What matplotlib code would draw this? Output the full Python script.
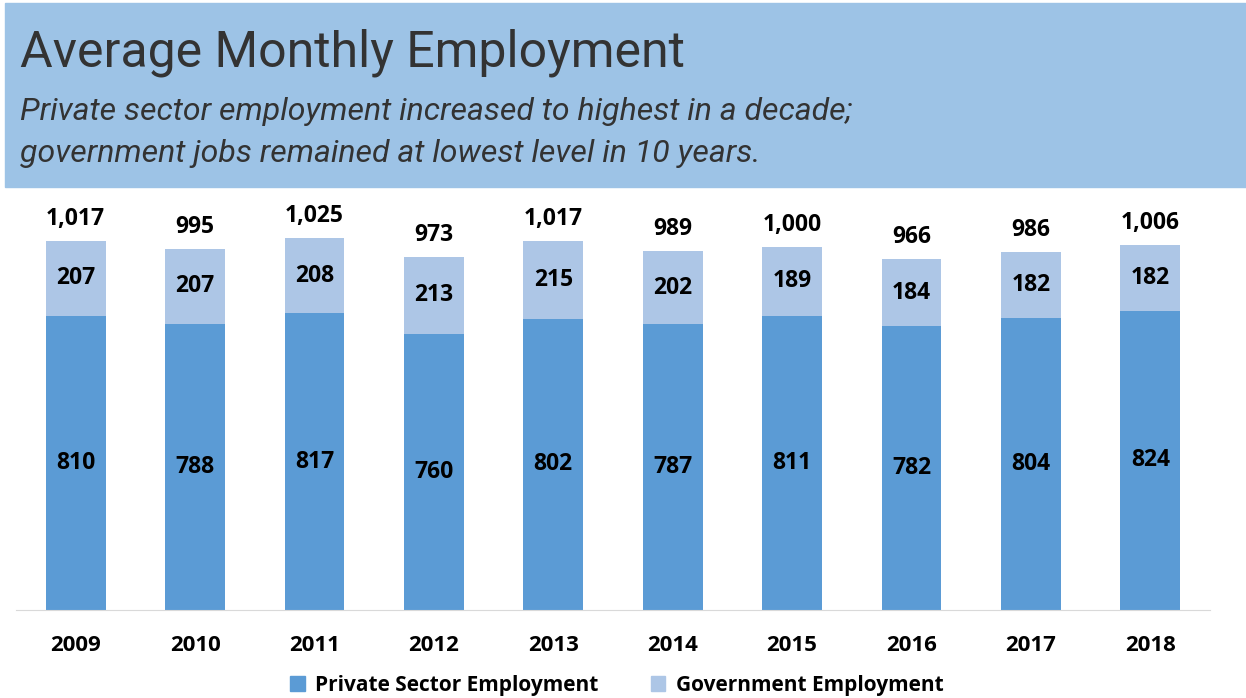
import matplotlib
matplotlib.use("Agg")
import matplotlib.pyplot as plt
from matplotlib.patches import Rectangle, Patch

# Data
years = ["2009", "2010", "2011", "2012", "2013", "2014", "2015", "2016", "2017", "2018"]
private = [810, 788, 817, 760, 802, 787, 811, 782, 804, 824]
government = [207, 207, 208, 213, 215, 202, 189, 184, 182, 182]
totals = [1017, 995, 1025, 973, 1017, 989, 1000, 966, 986, 1006]

PRIVATE_COLOR = "#5B9BD5"
GOV_COLOR = "#ADC6E6"
BOX_COLOR = "#9DC3E6"
LABEL_FONT = "Open Sans"

fig = plt.figure(figsize=(12.46, 6.98), dpi=100)

# Title banner
fig.patches.append(Rectangle((5 / 1246, 1 - 187 / 698), 1 - 5 / 1246, (187 - 3) / 698,
                             transform=fig.transFigure, color=BOX_COLOR, zorder=0))
fig.text(20 / 1246, 1 - 53 / 698, "Average Monthly Employment", fontsize=36,
         family="Roboto", color="#333333", va="center", ha="left")
fig.text(20 / 1246, 1 - 111 / 698, "Private sector employment increased to highest in a decade;",
         fontsize=23, family="Roboto", style="italic", color="#333333", va="center", ha="left")
fig.text(20 / 1246, 1 - 153 / 698, "government jobs remained at lowest level in 10 years.",
         fontsize=23, family="Roboto", style="italic", color="#333333", va="center", ha="left")

# Main axes
ax = fig.add_axes([16 / 1246, 1 - 610 / 698, (1210 - 16) / 1246, (610 - 210.7) / 698])
x = list(range(len(years)))
ax.bar(x, private, width=0.5, color=PRIVATE_COLOR, label="Private Sector Employment")
ax.bar(x, government, width=0.5, bottom=private, color=GOV_COLOR, label="Government Employment")

for i in x:
    ax.text(i, private[i] / 2, str(private[i]), ha="center", va="center",
            fontsize=16.5, fontweight="bold", family=LABEL_FONT)
    ax.text(i, private[i] + government[i] / 2, str(government[i]), ha="center", va="center",
            fontsize=16.5, fontweight="bold", family=LABEL_FONT)
    ax.annotate(f"{totals[i]:,}", (i, totals[i]), xytext=(0, 22), textcoords="offset pixels",
                ha="center", va="center", fontsize=16.5, fontweight="bold", family=LABEL_FONT)

ax.set_xlim(-0.5, 9.5)
ax.set_ylim(0, 1100)
ax.set_xticks(x)
ax.set_xticklabels(years, fontsize=16, fontweight="bold", family=LABEL_FONT)
ax.tick_params(axis="x", length=0, pad=18)
ax.set_yticks([])
for side in ["top", "right", "left"]:
    ax.spines[side].set_visible(False)
ax.spines["bottom"].set_color("#D9D9D9")

handles = [Patch(color=PRIVATE_COLOR), Patch(color=GOV_COLOR)]
fig.legend(handles, ["Private Sector Employment", "Government Employment"],
           loc="center", bbox_to_anchor=(617 / 1246, 1 - 685 / 698), ncol=2, frameon=False,
           prop={"family": LABEL_FONT, "weight": "bold", "size": 15},
           handlelength=0.7, handleheight=0.7, handletextpad=0.5, columnspacing=2.5)

fig.savefig("out.png", dpi=100)
